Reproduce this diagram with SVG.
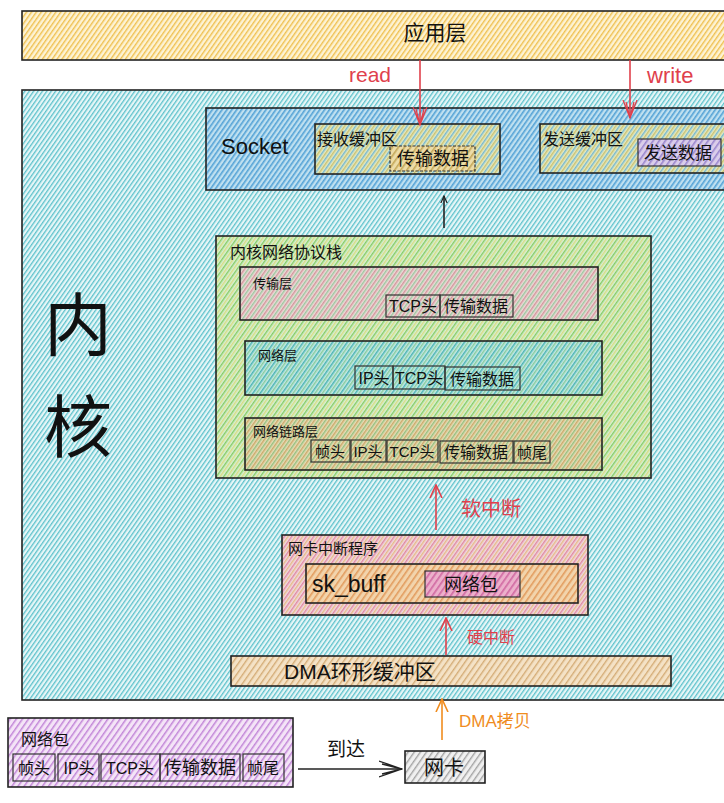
<svg xmlns="http://www.w3.org/2000/svg" width="724" height="803" viewBox="0 0 724 803">
<defs>
<pattern id="hApp" patternUnits="userSpaceOnUse" width="4" height="4" patternTransform="rotate(-55)"><rect width="4" height="4" fill="#fdf3d4"/><rect width="4" height="1.4" fill="#efc050"/></pattern>
<pattern id="hKernel" patternUnits="userSpaceOnUse" width="3.6" height="3.6" patternTransform="rotate(-55)"><rect width="3.6" height="3.6" fill="#e6f6f7"/><rect width="3.6" height="1.3" fill="#5ec2cc"/></pattern>
<pattern id="hSocket" patternUnits="userSpaceOnUse" width="4" height="4" patternTransform="rotate(-55)"><rect width="4" height="4" fill="#bfe0f0"/><rect width="4" height="1.6" fill="#55a3d6"/></pattern>
<pattern id="hRecv" patternUnits="userSpaceOnUse" width="6" height="6" patternTransform="rotate(-55)"><rect width="6" height="6" fill="#e2e8c0"/><rect width="6" height="1.4" fill="#cbc270"/><rect y="3" width="6" height="1.4" fill="#74b8d2"/></pattern>
<pattern id="hData" patternUnits="userSpaceOnUse" width="5" height="5" patternTransform="rotate(-55)"><rect width="5" height="5" fill="#ecdca8"/><rect width="5" height="1.6" fill="#c4a858"/></pattern>
<pattern id="hSend" patternUnits="userSpaceOnUse" width="5" height="5" patternTransform="rotate(-55)"><rect width="5" height="5" fill="#dacdea"/><rect width="5" height="1.6" fill="#9a86ce"/></pattern>
<pattern id="hStack" patternUnits="userSpaceOnUse" width="6" height="6" patternTransform="rotate(-55)"><rect width="6" height="6" fill="#d8efd0"/><rect width="6" height="1.4" fill="#86cc66"/><rect y="3" width="6" height="1.4" fill="#d8dc84"/></pattern>
<pattern id="hTrans" patternUnits="userSpaceOnUse" width="6" height="6" patternTransform="rotate(-55)"><rect width="6" height="6" fill="#eadad6"/><rect width="6" height="1.4" fill="#d4949c"/><rect y="3" width="6" height="1.4" fill="#9cc8a0"/></pattern>
<pattern id="hNet" patternUnits="userSpaceOnUse" width="6" height="6" patternTransform="rotate(-55)"><rect width="6" height="6" fill="#c2e8e4"/><rect width="6" height="1.5" fill="#4cb4b4"/><rect y="3" width="6" height="1.4" fill="#88cc9c"/></pattern>
<pattern id="hLink" patternUnits="userSpaceOnUse" width="6" height="6" patternTransform="rotate(-55)"><rect width="6" height="6" fill="#e4dcb4"/><rect width="6" height="1.4" fill="#cca86a"/><rect y="3" width="6" height="1.4" fill="#94c080"/></pattern>
<pattern id="hIrq" patternUnits="userSpaceOnUse" width="6" height="6" patternTransform="rotate(-55)"><rect width="6" height="6" fill="#f0d8de"/><rect width="6" height="1.4" fill="#e088a2"/><rect y="3" width="6" height="1.4" fill="#e6bc88"/></pattern>
<pattern id="hSkb" patternUnits="userSpaceOnUse" width="5" height="5" patternTransform="rotate(-55)"><rect width="5" height="5" fill="#f2d4ac"/><rect width="5" height="1.6" fill="#e29c5e"/></pattern>
<pattern id="hPktIn" patternUnits="userSpaceOnUse" width="5" height="5" patternTransform="rotate(-55)"><rect width="5" height="5" fill="#ecb0cb"/><rect width="5" height="1.7" fill="#d26ca4"/></pattern>
<pattern id="hDma" patternUnits="userSpaceOnUse" width="5" height="5" patternTransform="rotate(-55)"><rect width="5" height="5" fill="#f4e2c6"/><rect width="5" height="1.4" fill="#d4ac76"/></pattern>
<pattern id="hPurple" patternUnits="userSpaceOnUse" width="5" height="5" patternTransform="rotate(-55)"><rect width="5" height="5" fill="#f4e4f7"/><rect width="5" height="1.5" fill="#c286d8"/></pattern>
<pattern id="hGray" patternUnits="userSpaceOnUse" width="5" height="5" patternTransform="rotate(-55)"><rect width="5" height="5" fill="#f0f0f0"/><rect width="5" height="1.4" fill="#a4a4a4"/></pattern>
<marker id="mRed" viewBox="0 0 20 20" refX="18" refY="10" markerWidth="20" markerHeight="20" markerUnits="userSpaceOnUse" orient="auto"><path d="M0,3 L18,10 L0,17 M2,6 L18,10 L2,14" fill="none" stroke="#e0404c" stroke-width="1.3"/></marker>
<marker id="mRedS" viewBox="0 0 14 14" refX="13" refY="7" markerWidth="14" markerHeight="14" markerUnits="userSpaceOnUse" orient="auto"><path d="M0,1 L13,7 L0,13" fill="none" stroke="#e0404c" stroke-width="1.6"/></marker>
<marker id="mOrange" viewBox="0 0 14 14" refX="13" refY="7" markerWidth="14" markerHeight="14" markerUnits="userSpaceOnUse" orient="auto"><path d="M0,1 L13,7 L0,13" fill="none" stroke="#f08c1e" stroke-width="1.6"/></marker>
<marker id="mBlack" viewBox="0 0 10 10" refX="9" refY="5" markerWidth="8" markerHeight="8" markerUnits="userSpaceOnUse" orient="auto"><path d="M0,1 L9,5 L0,9" fill="none" stroke="#222" stroke-width="1.5"/></marker>
<marker id="mArrive" viewBox="0 0 24 20" refX="23" refY="10" markerWidth="24" markerHeight="20" markerUnits="userSpaceOnUse" orient="auto"><path d="M0,2 L23,10 L0,18 M3,5 L23,10 L3,15" fill="none" stroke="#222" stroke-width="1.3"/></marker>
</defs>
<style>
.box{stroke:#222;stroke-width:1.6}
.thin{stroke:#333;stroke-width:1.2}
.dash{stroke:#333;stroke-width:1.2;stroke-dasharray:3 1.5}
text{font-family:"Liberation Sans","Noto Sans CJK SC",sans-serif;fill:#111}
.cell{text-anchor:middle}
.red{fill:#e0404c}
.orange{fill:#f08c1e}
.conn{fill:none;stroke-width:1.6}
</style>
<rect width="724" height="803" fill="#ffffff"/>

<g id="app">
<rect x="22" y="11" width="710" height="49" fill="url(#hApp)" class="box"/>
<text x="435" y="40" font-size="21" text-anchor="middle">应用层</text>
</g>

<g id="kernel">
<rect x="22" y="90" width="710" height="610" fill="url(#hKernel)" class="box"/>
<text x="44" y="350" font-size="68">内</text>
<text x="44" y="452" font-size="68">核</text>
</g>

<g id="socket">
<rect x="206" y="108" width="526" height="82" fill="url(#hSocket)" class="box"/>
<text x="221" y="154" font-size="22">Socket</text>
</g>

<g id="recvbuf">
<rect x="315" y="124" width="185" height="50" fill="url(#hRecv)" class="box"/>
<text x="317" y="145" font-size="16">接收缓冲区</text>
<rect x="390" y="146" width="85" height="25" fill="url(#hData)" class="dash"/>
<text x="433" y="165" font-size="18" text-anchor="middle">传输数据</text>
</g>

<g id="sendbuf">
<rect x="540" y="124" width="192" height="49" fill="url(#hRecv)" class="box"/>
<text x="543" y="145" font-size="16">发送缓冲区</text>
<rect x="638" y="139" width="83" height="27" fill="url(#hSend)" class="thin"/>
<text x="678" y="159" font-size="17" text-anchor="middle">发送数据</text>
</g>

<g id="stack">
<rect x="216" y="236" width="435" height="242" fill="url(#hStack)" class="box"/>
<text x="230" y="258" font-size="16">内核网络协议栈</text>
</g>

<g id="transport">
<rect x="240" y="267" width="358" height="53" fill="url(#hTrans)" class="box"/>
<text x="253" y="288" font-size="13">传输层</text>
<rect x="386" y="295" width="54" height="22" fill="none" class="thin"/>
<text x="413" y="312" class="cell" font-size="16">TCP头</text>
<rect x="440" y="295" width="73" height="22" fill="none" class="thin"/>
<text x="476" y="312" class="cell" font-size="16">传输数据</text>
</g>

<g id="network">
<rect x="245" y="341" width="357" height="54" fill="url(#hNet)" class="box"/>
<text x="258" y="360" font-size="13">网络层</text>
<rect x="355" y="366" width="38" height="23" fill="none" class="thin"/>
<text x="374" y="384" class="cell" font-size="16">IP头</text>
<rect x="393" y="366" width="52" height="23" fill="none" class="thin"/>
<text x="419" y="384" class="cell" font-size="16">TCP头</text>
<rect x="445" y="367" width="75" height="23" fill="none" class="thin"/>
<text x="482" y="385" class="cell" font-size="16">传输数据</text>
</g>

<g id="link">
<rect x="245" y="418" width="357" height="52" fill="url(#hLink)" class="box"/>
<text x="253" y="436" font-size="13">网络链路层</text>
<rect x="311" y="440" width="39" height="22" fill="none" class="thin"/>
<text x="330" y="457" class="cell" font-size="15">帧头</text>
<rect x="351" y="440" width="35" height="22" fill="none" class="thin"/>
<text x="368" y="457" class="cell" font-size="15">IP头</text>
<rect x="387" y="440" width="51" height="22" fill="none" class="thin"/>
<text x="412" y="457" class="cell" font-size="15">TCP头</text>
<rect x="440" y="441" width="73" height="22" fill="none" class="thin"/>
<text x="476" y="458" class="cell" font-size="16">传输数据</text>
<rect x="514" y="441" width="36" height="22" fill="none" class="thin"/>
<text x="532" y="458" class="cell" font-size="15">帧尾</text>
</g>

<g id="irq">
<rect x="282" y="535" width="306" height="80" fill="url(#hIrq)" class="box"/>
<text x="288" y="554" font-size="15">网卡中断程序</text>
</g>

<g id="skbuff">
<rect x="306" y="564" width="272" height="39" fill="url(#hSkb)" class="box"/>
<text x="312" y="592" font-size="23">sk_buff</text>
<rect x="425" y="571" width="95" height="26" fill="url(#hPktIn)" class="thin"/>
<text x="471" y="591" font-size="18" text-anchor="middle">网络包</text>
</g>

<g id="dma">
<rect x="231" y="656" width="440" height="30" fill="url(#hDma)" class="box"/>
<text x="284" y="679" font-size="21">DMA环形缓冲区</text>
</g>

<g id="packet">
<rect x="8" y="718" width="285" height="69" fill="url(#hPurple)" class="box"/>
<text x="21" y="745" font-size="16">网络包</text>
<rect x="13" y="754" width="42" height="27" fill="none" class="thin"/>
<text x="34" y="774" class="cell" font-size="16">帧头</text>
<rect x="58" y="754" width="41" height="27" fill="none" class="thin"/>
<text x="79" y="774" class="cell" font-size="16">IP头</text>
<rect x="101" y="754" width="59" height="27" fill="none" class="thin"/>
<text x="130" y="774" class="cell" font-size="16">TCP头</text>
<rect x="160" y="754" width="80" height="27" fill="none" class="thin"/>
<text x="200" y="774" class="cell" font-size="18">传输数据</text>
<rect x="243" y="754" width="41" height="27" fill="none" class="thin"/>
<text x="263" y="774" class="cell" font-size="16">帧尾</text>
</g>

<g id="nic">
<rect x="405" y="751" width="80" height="32" fill="url(#hGray)" class="box"/>
<text x="444" y="775" font-size="20" text-anchor="middle">网卡</text>
</g>

<g id="connectors">
<line x1="420" y1="60" x2="420" y2="125" class="conn" stroke="#e0404c" marker-end="url(#mRed)"/>
<text x="349" y="82" font-size="21" class="red">read</text>
<line x1="630" y1="60" x2="630" y2="118" class="conn" stroke="#e0404c" marker-end="url(#mRed)"/>
<text x="647" y="83" font-size="22" class="red">write</text>
<line x1="444" y1="228" x2="444" y2="196" class="conn" stroke="#222" stroke-width="1.4" marker-end="url(#mBlack)"/>
<line x1="436" y1="530" x2="436" y2="485" class="conn" stroke="#e0404c" marker-end="url(#mRedS)"/>
<text x="461" y="516" font-size="20" class="red">软中断</text>
<line x1="446" y1="655" x2="446" y2="618" class="conn" stroke="#e0404c" marker-end="url(#mRedS)"/>
<text x="467" y="643" font-size="16" class="red">硬中断</text>
<line x1="442" y1="740" x2="442" y2="699" class="conn" stroke="#f08c1e" marker-end="url(#mOrange)"/>
<text x="459" y="727" font-size="17" class="orange">DMA拷贝</text>
<line x1="298" y1="769" x2="402" y2="769" class="conn" stroke="#222" marker-end="url(#mArrive)"/>
<text x="327" y="756" font-size="19">到达</text>
</g>
</svg>
